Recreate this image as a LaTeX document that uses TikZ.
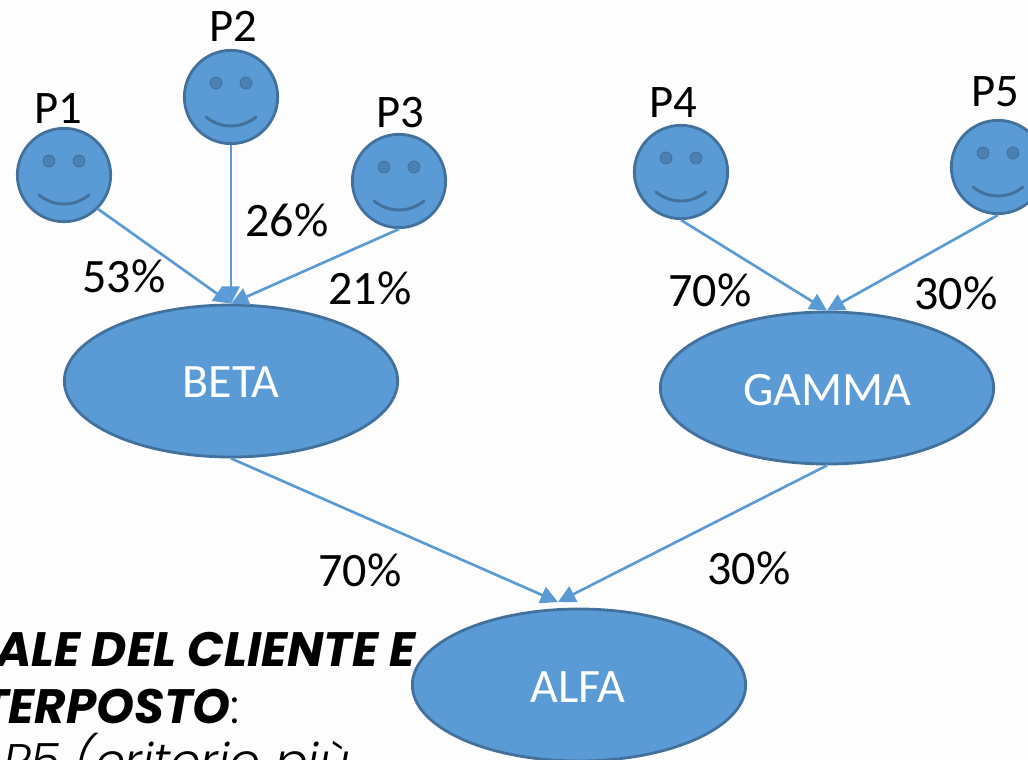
\documentclass[tikz,border=0pt]{standalone}
\usepackage{fontspec}
\setmainfont{Carlito}
\newfontfamily\popbold[ItalicFont={Poppins Bold Italic}]{Poppins}
\newfontfamily\poplight{Poppins Light Italic}
\usetikzlibrary{arrows.meta}
\usetikzlibrary{shapes.geometric}
\definecolor{fillblue}{HTML}{5B9BD5}
\definecolor{edgeblue}{HTML}{41719C}
\definecolor{eyeblue}{HTML}{4A80B2}
\definecolor{paper}{HTML}{FDFDFD}
\tikzset{
  x=0.75pt,y=-0.75pt,
  face/.style={circle,draw=edgeblue,fill=fillblue,line width=2.1pt,minimum size=70pt,inner sep=0pt},
  ell/.style={ellipse,draw=edgeblue,fill=fillblue,line width=2.1pt,minimum width=250pt,minimum height=114pt,inner sep=0pt},
  ellabel/.style={text=white,font=\fontsize{36}{38}\selectfont,inner sep=0pt},
  lab/.style={text=black,font=\fontsize{35}{38}\selectfont,inner sep=0pt},
  pct/.style={text=black,font=\fontsize{36}{38}\selectfont,inner sep=0pt},
  link/.style={draw=fillblue,line width=2pt,-{Triangle[length=13pt,width=13pt,fill=fillblue]}},
  body/.style={text=black,inner sep=0pt,anchor=base east},
  eye/.style={fill=eyeblue,draw=edgeblue,line width=0.6pt},
  smile/.style={draw=edgeblue,line width=2.2pt,line cap=round}
}
\begin{document}
\begin{tikzpicture}
\useasboundingbox (0,0) rectangle (1028,760);
\clip (0,0) rectangle (1028,760);
\fill[paper] (0,0) rectangle (1028,760);
% clipped slide text behind the diagram
\node[body,font=\popbold\itshape\fontsize{36.2}{40}\selectfont] (t1) at (416,666) {ALE DEL CLIENTE E};
\node[body,font=\popbold\itshape\fontsize{36.2}{40}\selectfont] (t2) at (240,723) {TERPOSTO{\poplight:}};
\node[body,font=\poplight\fontsize{36.4}{40}\selectfont] (t3) at (350,778) {P5 (criterio più};
% faces
\foreach \n/\cx/\cy in {p1/64/175,p2/231/97,p3/399/181,p4/681/172,p5/998/167}{
  \node[face] (\n) at (\cx,\cy) {};
  \fill[eye] (\cx-15,\cy-14) circle[radius=4.5pt];
  \fill[eye] (\cx+15,\cy-14) circle[radius=4.5pt];
  \draw[smile] (\cx-25,\cy+20) .. controls (\cx-10,\cy+32) and (\cx+10,\cy+32) .. (\cx+25,\cy+20);
}
% ellipses
\node[ell] (beta) at (231,381) {};
\node[ell] (gamma) at (827,388) {};
\node[ell] (alfa) at (579,685) {};
\node[ellabel] (lbeta) at (231,382) {BETA};
\node[ellabel] (lgamma) at (827,390) {GAMMA};
\node[ellabel] (lalfa) at (578,687) {ALFA};
\coordinate (alfatop) at (558,602);
% connectors
\draw[link] (p1.-45) -- (beta.north);
\draw[link] (p2.south) -- (beta.north);
\draw[link] (p3.south) -- (beta.north);
\draw[link] (p4.south) -- (gamma.north);
\draw[link] (p5.south) -- (gamma.north);
\draw[link] (beta.south) -- (alfatop);
\draw[link] (gamma.south) -- (alfatop);
% labels
\node[lab] (n1) at (58,108) {P1};
\node[lab] (n2) at (233,26) {P2};
\node[lab] (n3) at (400,113) {P3};
\node[lab] (n4) at (673,103) {P4};
\node[lab] (n5) at (995,92) {P5};
\node[pct] (a) at (124,276) {53\%};
\node[pct] (b) at (287,220) {26\%};
\node[pct] (c) at (370,288) {21\%};
\node[pct] (d) at (710,290) {70\%};
\node[pct] (e) at (956,293) {30\%};
\node[pct] (f) at (360,570) {70\%};
\node[pct] (g) at (749,568) {30\%};
\end{tikzpicture}
\end{document}
